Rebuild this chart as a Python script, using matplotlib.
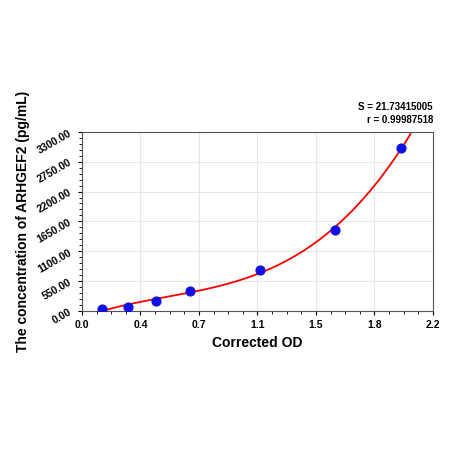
import numpy as np
import matplotlib
matplotlib.use("Agg")
import matplotlib.pyplot as plt
from matplotlib.ticker import AutoMinorLocator

plt.rcParams['font.family'] = ['Liberation Sans', 'DejaVu Sans']

od = [0.125, 0.286, 0.463, 0.680, 1.114, 1.585, 2.000]
conc = [37, 80, 178, 368, 748, 1491, 3000]
xticks = [0.0, 0.3667, 0.7333, 1.1, 1.4667, 1.8333, 2.2]
xlabels = ["0.0", "0.4", "0.7", "1.1", "1.5", "1.8", "2.2"]
yticks = [0, 550, 1100, 1650, 2200, 2750, 3300]
ylabels = ["0.00", "550.00", "1100.00", "1650.00", "2200.00", "2750.00", "3300.00"]

fig = plt.figure(figsize=(4.5, 4.5), dpi=100)
ax = fig.add_axes([0.182, 0.309, 0.78, 0.398])
coef = np.polyfit(od, conc, 3)
xs = np.linspace(0.02, 2.06, 300)
ys = np.polyval(coef, xs)
ax.plot(xs, ys, color="red", lw=1.3, zorder=2)
ax.scatter(od, conc, s=40, color="#1010e0", zorder=3)
ax.set_xlim(0, 2.2)
ax.set_ylim(0, 3300)
ax.set_xticks(xticks)
ax.set_xticklabels(xlabels, fontsize=7.5, fontweight="bold")
ax.set_yticks(yticks)
ax.set_yticklabels(ylabels, fontsize=7.5, fontweight="bold", rotation=30)
ax.xaxis.set_minor_locator(AutoMinorLocator(4))
ax.yaxis.set_minor_locator(AutoMinorLocator(5))
ax.tick_params(which="both", direction="out", length=3)
ax.tick_params(which="minor", length=2)
ax.grid(True, color="#e6e6e6", lw=0.8)
ax.set_axisbelow(True)
for s in ax.spines.values():
    s.set_color("#555555")
ax.set_xlabel("Corrected OD", fontsize=10, fontweight="bold")
ax.set_ylabel("The concentration of ARHGEF2 (pg/mL)", fontsize=10, fontweight="bold")
ax.text(1.0, 1.04, "S = 21.73415005\nr = 0.99987518", transform=ax.transAxes,
        ha="right", va="bottom", fontsize=7, fontweight="bold", linespacing=1.3)
fig.savefig("out.png", dpi=100)
